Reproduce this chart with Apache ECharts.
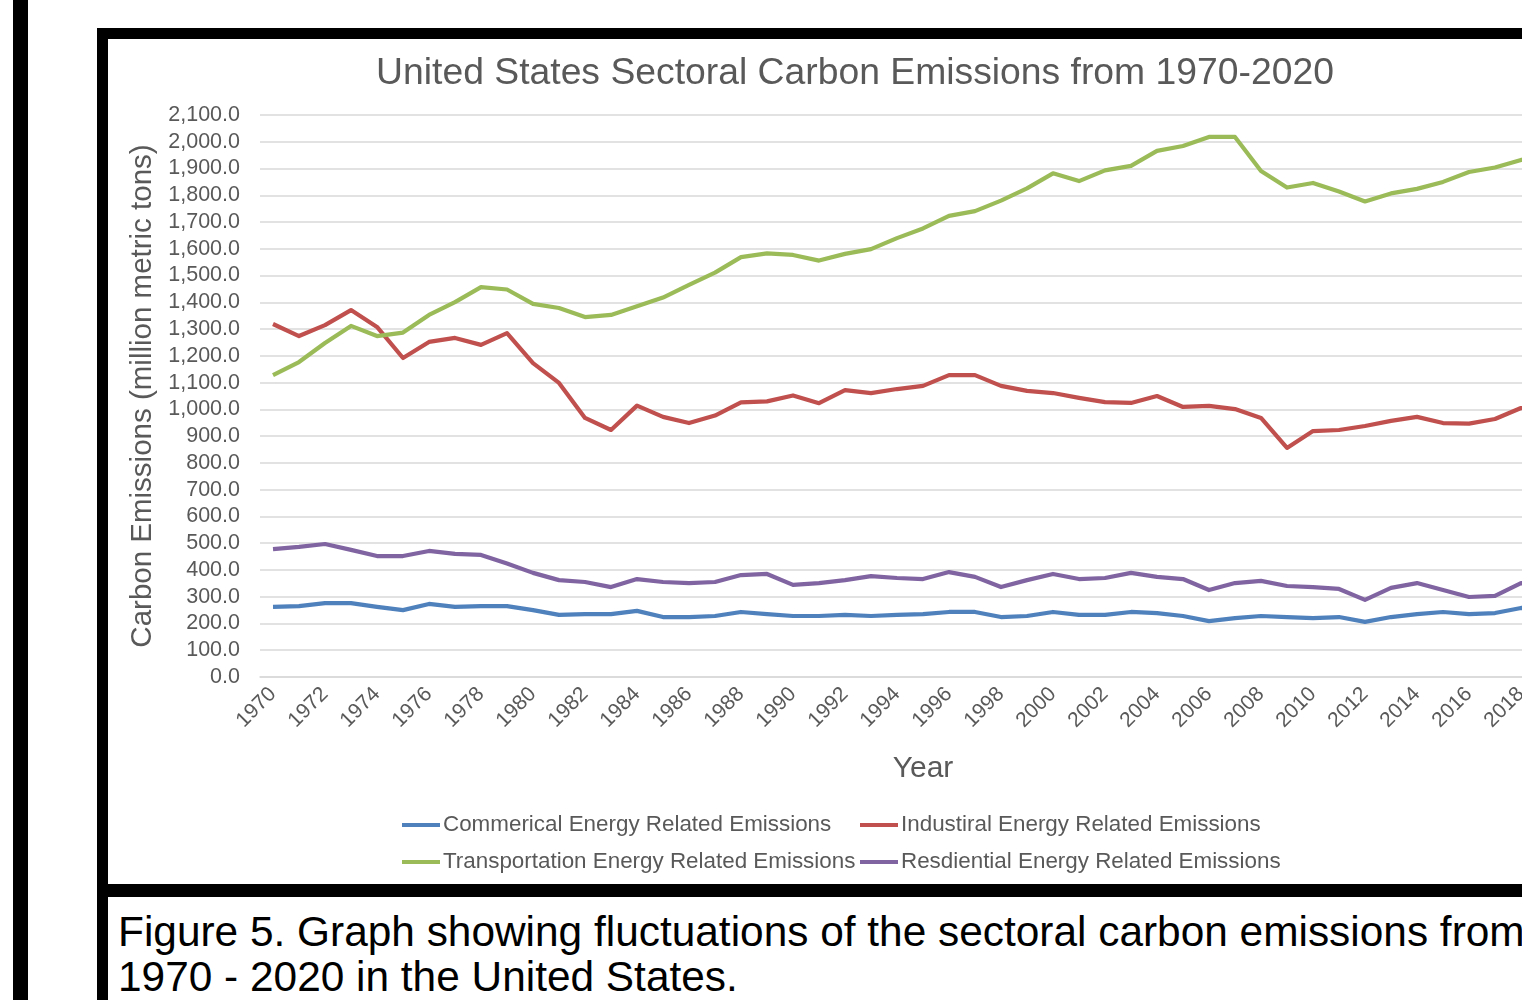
<!DOCTYPE html>
<html>
<head>
<meta charset="utf-8">
<script src="https://cdn.jsdelivr.net/npm/echarts@6/dist/echarts.min.js"></script>
<style>
  html, body { margin: 0; padding: 0; background: #fff; }
  body { width: 1522px; height: 1000px; overflow: hidden; position: relative; font-family: "Liberation Sans", Arial, sans-serif; }
  #sideBar { position: absolute; left: 13px; top: 0; width: 15px; height: 1000px; background: #000; }
  #chartBox { position: absolute; left: 97px; top: 28px; width: 1700px; height: 845px;
              border-top: 11px solid #000; border-left: 11px solid #000; border-bottom: 13px solid #000; background: #fff; }
  #chart { position: absolute; left: 0; top: 0; width: 1494px; height: 845px; }
  #captionBox { position: absolute; left: 97px; top: 897px; width: 1700px; height: 200px; border-left: 11px solid #000; }
  #caption { position: absolute; left: 10px; top: 12px; font-size: 42.4px; line-height: 45px; color: #000; white-space: nowrap; }
</style>
</head>
<body>
<div id="sideBar"></div>
<div id="chartBox"><div id="chart"></div></div>
<div id="captionBox">
  <div id="caption">Figure 5. Graph showing fluctuations of the sectoral carbon emissions from<br>1970 - 2020 in the United States.</div>
</div>
<script>
// Years on the category axis
const years = ['1970','1971','1972','1973','1974','1975','1976','1977','1978','1979',
  '1980','1981','1982','1983','1984','1985','1986','1987','1988','1989',
  '1990','1991','1992','1993','1994','1995','1996','1997','1998','1999',
  '2000','2001','2002','2003','2004','2005','2006','2007','2008','2009',
  '2010','2011','2012','2013','2014','2015','2016','2017','2018','2019','2020'];

// Sector emissions, million metric tons
const commercial = [262,265,276,276,262,250,273,262,265,265,
  250,232,235,235,247,224,224,228,243,235,
  228,228,232,228,232,235,243,243,224,228,
  243,232,232,243,239,228,209,220,228,224,
  220,224,206,224,235,243,235,239,258,255,228];
const industrial = [1319,1274,1315,1371,1308,1192,1252,1267,1241,1285,
  1173,1099,968,923,1014,972,949,977,1026,1030,
  1052,1023,1072,1061,1076,1088,1128,1128,1088,1069,
  1061,1043,1027,1024,1050,1009,1013,1001,968,856,
  919,923,938,957,972,949,947,964,1005,990,910];
const transportation = [1128,1177,1248,1312,1274,1287,1353,1401,1457,1448,
  1394,1379,1345,1353,1385,1418,1465,1511,1569,1583,
  1577,1556,1581,1599,1640,1676,1723,1741,1780,1826,
  1882,1853,1893,1910,1966,1984,2018,2018,1891,1829,
  1846,1814,1777,1807,1824,1850,1887,1904,1932,1940,1630];
const residential = [478,486,497,475,452,452,471,460,456,424,
  389,362,355,336,366,355,351,355,381,385,
  344,351,362,377,370,366,392,374,336,362,
  385,366,370,389,374,366,325,351,359,340,
  336,329,288,333,351,325,299,303,351,340,325];

const seriesNames = ['Commerical Energy Related Emissions', 'Industiral Energy Related Emissions',
  'Transportation Energy Related Emissions', 'Resdiential Energy Related Emissions'];
const seriesData = [commercial, industrial, transportation, residential];
const seriesColors = ['#4F81BD', '#C0504D', '#9BBB59', '#8064A2'];

const gray = '#595959';
const font = '"Liberation Sans", Arial, sans-serif';

const legendSpots = [[294, 775], [752, 775], [294, 812], [752, 812]];

const chart = echarts.init(document.getElementById('chart'), null, { renderer: 'canvas' });
chart.setOption({
  animation: false,
  color: seriesColors,
  title: {
    text: 'United States Sectoral Carbon Emissions from 1970-2020',
    left: 'center', top: 11,
    textStyle: { color: gray, fontSize: 37.3, fontWeight: 'normal', fontFamily: font }
  },
  legend: seriesNames.map((n, i) => ({
    data: [n], left: legendSpots[i][0], top: legendSpots[i][1],
    icon: 'rect', itemWidth: 38, itemHeight: 4, padding: 0,
    textStyle: { color: gray, fontSize: 22.4, fontFamily: font, padding: [0, 0, 0, -2] }
  })),
  grid: { left: 152, top: 76, width: 1326, height: 562, containLabel: false },
  xAxis: {
    type: 'category', data: years, boundaryGap: true,
    name: 'Year', nameLocation: 'middle', nameGap: 77,
    nameTextStyle: { color: gray, fontSize: 30, fontFamily: font },
    axisLine: { lineStyle: { color: '#d9d9d9', width: 1.5 } },
    axisTick: { show: false },
    axisLabel: { interval: 1, rotate: 45, margin: 14, color: gray, fontSize: 21, fontFamily: font }
  },
  yAxis: {
    type: 'value', min: 0, max: 2100, interval: 100,
    name: 'Carbon Emissions (million metric tons)', nameLocation: 'middle', nameGap: 100,
    nameTextStyle: { color: gray, fontSize: 29.5, fontFamily: font },
    axisLine: { show: false }, axisTick: { show: false },
    axisLabel: {
      margin: 20, color: gray, fontSize: 21.5, fontFamily: font,
      formatter: v => v.toLocaleString('en-US', { minimumFractionDigits: 1, maximumFractionDigits: 1 })
    },
    splitLine: { lineStyle: { color: '#d9d9d9', width: 1.5 } }
  },
  series: seriesNames.map((n, i) => ({
    name: n, type: 'line', data: seriesData[i], symbol: 'none',
    lineStyle: { width: 4.2, color: seriesColors[i], join: 'round' },
    itemStyle: { color: seriesColors[i] }
  }))
});
</script>
</body>
</html>
